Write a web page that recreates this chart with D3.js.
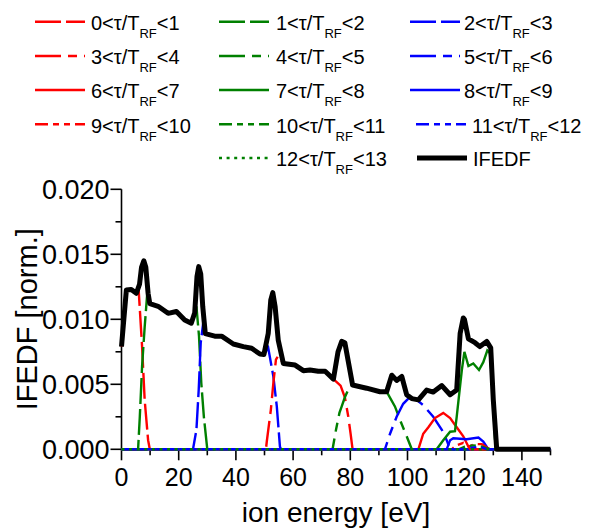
<!DOCTYPE html>
<html>
<head>
<meta charset="utf-8">
<script src="https://cdn.jsdelivr.net/npm/d3@7"></script>
<style>
  body { margin: 0; background: #fff; }
  svg { display: block; font-family: "Liberation Sans", Arial, sans-serif; }
</style>
</head>
<body>
<svg id="chart" width="592" height="528"></svg>
<script>
// energy [eV], IFEDF [norm.]; null = hidden under the total curve
var ifedf = [[0,0.0079],[0.5,0.0092],[1.7,0.01225],[3.4,0.0123],[5.2,0.0120],[6.3,0.0127],[7.0,0.0140],[7.8,0.0145],[8.5,0.0140],[9.3,0.0120],[9.9,0.0112],
  [12.8,0.0110],[16.3,0.01046],[19.2,0.0106],[22.1,0.00995],[24.4,0.0097],[25.6,0.0105],[26.4,0.0133],[27.0,0.01405],[27.7,0.0135],[28.4,0.0110],[29.3,0.0089],
  [32.6,0.0087],[35.0,0.0087],[39.1,0.0081],[42.6,0.0079],[45.5,0.00777],[48.4,0.00733],[49.8,0.0073],[51.3,0.0089],[52.2,0.0115],[52.9,0.01205],[53.7,0.0110],[54.8,0.0084],[56.6,0.0066],
  [60.7,0.00648],[63.6,0.00605],[65.9,0.0061],[68.8,0.0060],[71.2,0.0060],[74.1,0.0054],[75.7,0.0075],[77.0,0.0083],[78.1,0.0082],[80.8,0.00495],
  [85.7,0.0047],[90.4,0.00443],[92.7,0.00443],[94.5,0.0057],[96.2,0.0053],[98.0,0.0056],[99.7,0.0042],[101.5,0.0039],[103.8,0.0038],[106.7,0.00456],[109.0,0.0044],
  [112.0,0.0049],[114.9,0.0042],[117.2,0.00456],[118.4,0.0089],[119.5,0.0101],[119.9,0.0100],[121.3,0.0085],[123.6,0.0082],[125.3,0.0079],[127.7,0.0083],[129.1,0.0078],
  [130.0,0.0038],[131.2,0],[150,0]]

var t0 = [[0,0.0079],[0.5,0.0092],[1.7,0.01225],[3.4,0.0123],[5.2,0.0120],[6.0,0.01225],[7.2,0.0079],[8.1,0.0038],[9.3,0.0007],[9.9,0],[150,0]]
var t1 = [[0,0],[5.8,0],[6.4,0.0025],[7.2,0.0064],[8.1,0.0094],[9.0,0.0120],[9.6,0.0115],[10,null],[25.6,null],[25.6,0.0105],[26.2,0.0110],[27.1,0.0087],[27.9,0.0051],[28.8,0.0025],[30.0,0],[150,0]]
var t2 = [[0,0],[25.0,0],[26.2,0.0015],[27.0,0.0046],[27.7,0.0082],[28.8,0.0101],[29.3,0.0089],[30,null],[49.8,null],[49.8,0.0073],[51.3,0.0078],[53.1,0.0056],[54.3,0.0033],[55.4,0.0002],[55.8,0],[150,0]]
var t3 = [[0,0],[50.5,0],[50.8,0.0006],[52.2,0.0030],[53.1,0.0051],[54.0,0.0069],[54.8,0.0072],[56.6,0.0066],[57,null],[74.1,null],[74.1,0.0054],[76.6,0.0049],[78.1,0.0040],[79.3,0.0025],[80.1,0.0012],[80.8,0],[150,0]]
var t4 = [[0,0],[73.8,0],[75.0,0.0015],[76.2,0.0028],[77.0,0.0033],[78.1,0.0040],[79.9,0.0049],[80.8,0.00495],[81,null],[92.7,null],[92.7,0.00443],[95.6,0.0033],[97.4,0.00225],[99.7,0.0010],[101.5,0],[150,0]]
var t5 = [[0,0],[92.1,0],[93.9,0.0012],[96.2,0.0025],[98.5,0.0035],[100.3,0.0039],[103.2,0.0038],[105.5,0.0034],[109.0,0.0025],[112.0,0.0015],[113.7,0.0007],[114.9,0],[150,0]]
var t6 = [[0,0],[103.8,0],[105.5,0.0012],[107.3,0.0017],[109.6,0.0024],[112.5,0.0028],[114.9,0.0024],[117.2,0.0017],[119.5,0.0010],[121.3,0.0002],[122,0],[150,0]]
var t7 = [[0,0],[110.2,0],[112.5,0.0007],[114.9,0.00135],[116.6,0.0014],[117.2,0.0025],[119.0,0.0061],[119.9,0.0075],[121.3,0.0064],[123.0,0.0066],[125.0,0.0061],[126.5,0.0067],[127.9,0.0076],[128.8,0.0074],[129.6,0.0052],[130.6,0.0008],[131,0],[150,0]]
var t8 = [[0,0],[113.7,0],[114.9,0.0007],[116,0.00085],[120.7,0.00077],[124.8,0.0009],[126.5,0.0006],[128.3,0],[150,0]]
var t9 = [[0,0],[115.5,0],[117,0.0003],[119.5,0.0005],[121.5,0.0002],[123.5,0.0004],[126,0.0004],[128,0.0001],[129,0],[150,0]]
var t10 = [[0,0],[118,0],[120,0.0002],[123,0.0003],[126,0.0002],[129,0],[150,0]]
var t11 = [[0,0],[119,0],[122,0.0001],[125,0.0002],[128,0],[150,0]]
var t12 = [[0,0],[150,0]]

var components = [t0,t1,t2,t3,t4,t5,t6,t7,t8,t9,t10,t11,t12]
var lowBounds = [0,1,2,3,4,5,6,7,8,9,10,11,12]
var xTicks = [0,20,40,60,80,100,120,140]
var yTicks = [0,0.005,0.010,0.015,0.020]

// styles
var colors = ["#ff0000","#008000","#0000ff"]
var dashes = ["26,5","26,5","26,5","26,7,9,7","26,7,9,7","26,7,9,7",null,null,null,
  "13,5,6,5,6,5","13,5,6,5,6,5","13,5,6,5,6,5","3,4.6"]
function compColor(i){ return i == 12 ? colors[1] : colors[i % 3] }

var svg = d3.select("#chart")
var x = d3.scaleLinear().domain([0,150]).range([121.5,550.5])
var y = d3.scaleLinear().domain([0,0.02]).range([449.3,189.3])

var line = d3.line()
  .defined(d=> d[1] != null)
  .x(d=> x(d[0]))
  .y(d=> y(d[1]))

// axes
var xAxis = svg.append("g").attr("transform", `translate(0,${y(0)})`)
xAxis.append("line").attr("x1", x(0)).attr("x2", x(150)).attr("stroke", "#000").attr("stroke-width", 1.6)
xAxis.selectAll(".minor").data(d3.range(10,151,20)).enter().append("line")
  .attr("x1", d=> x(d)).attr("x2", d=> x(d)).attr("y1", 0).attr("y2", 6)
  .attr("stroke", "#000").attr("stroke-width", 1.6)
xAxis.selectAll(".major").data(xTicks).enter().append("line")
  .attr("x1", d=> x(d)).attr("x2", d=> x(d)).attr("y1", 0).attr("y2", 11)
  .attr("stroke", "#000").attr("stroke-width", 1.6)
xAxis.selectAll("text").data(xTicks).enter().append("text")
  .attr("x", d=> x(d)).attr("y", 37)
  .attr("text-anchor", "middle").attr("font-size", 25)
  .text(d=> d)

var yAxis = svg.append("g").attr("transform", `translate(${x(0)},0)`)
yAxis.append("line").attr("y1", y(0)).attr("y2", y(0.02)).attr("stroke", "#000").attr("stroke-width", 1.6)
yAxis.selectAll(".minor").data([0.0025,0.0075,0.0125,0.0175]).enter().append("line")
  .attr("y1", d=> y(d)).attr("y2", d=> y(d)).attr("x1", 0).attr("x2", -6)
  .attr("stroke", "#000").attr("stroke-width", 1.6)
yAxis.selectAll(".major").data(yTicks).enter().append("line")
  .attr("y1", d=> y(d)).attr("y2", d=> y(d)).attr("x1", 0).attr("x2", -11)
  .attr("stroke", "#000").attr("stroke-width", 1.6)
yAxis.selectAll("text").data(yTicks).enter().append("text")
  .attr("x", -12).attr("y", d=> y(d) + 9.5)
  .attr("text-anchor", "end").attr("font-size", 27)
  .text(d3.format(".3f"))

svg.append("text")
  .attr("x", x(75)).attr("y", 522)
  .attr("text-anchor", "middle").attr("font-size", 28)
  .text("ion energy [eV]")

svg.append("text")
  .attr("transform", `translate(37,${y(0.01)}) rotate(-90)`)
  .attr("text-anchor", "middle").attr("font-size", 29)
  .text("IFEDF [norm.]")

// curves
svg.selectAll(".comp").data(components).enter().append("path")
  .attr("d", d=> line(d))
  .attr("fill", "none")
  .attr("stroke", (d,i)=> compColor(i))
  .attr("stroke-width", 2.4)
  .attr("stroke-dasharray", (d,i)=> dashes[i])

svg.append("path")
  .attr("d", line(ifedf))
  .attr("fill", "none")
  .attr("stroke", "#000")
  .attr("stroke-width", 5)
  .attr("stroke-linejoin", "round")

// legend
var legendX = [[35,91],[219,276],[410,464]]
var rowY = [21.7,56,90,124.3,158]
var legendItems = components.map((d,i)=> {
  var col = i == 12 ? 1 : i % 3
  var row = Math.floor(i / 3)
  var lx = legendX[col][0], tx = legendX[col][1]
  if(row == 3 && col == 2){ lx += 6; tx += 8 }
  return {lx: lx, tx: tx, y: rowY[row], i: i}
})

var leg = svg.append("g")
leg.selectAll("line").data(legendItems).enter().append("line")
  .attr("x1", d=> d.lx).attr("x2", d=> d.lx + 50)
  .attr("y1", d=> d.y).attr("y2", d=> d.y)
  .attr("stroke", d=> compColor(d.i))
  .attr("stroke-width", 2.4)
  .attr("stroke-dasharray", d=> dashes[d.i])

var labels = leg.selectAll("text").data(legendItems).enter().append("text")
  .attr("x", d=> d.tx).attr("y", d=> d.y + 8.3)
  .attr("font-size", 20)
labels.append("tspan").text(d=> lowBounds[d.i] + "<τ/T")
labels.append("tspan").attr("dy", 8).attr("font-size", 13).text("RF")
labels.append("tspan").attr("dy", -8).text(d=> "<" + (lowBounds[d.i] + 1))

leg.append("line")
  .attr("x1", 417).attr("x2", 467).attr("y1", rowY[4]).attr("y2", rowY[4])
  .attr("stroke", "#000").attr("stroke-width", 5)
leg.append("text")
  .attr("x", 473).attr("y", rowY[4] + 8.3)
  .attr("font-size", 20)
  .text("IFEDF")
</script>
</body>
</html>
